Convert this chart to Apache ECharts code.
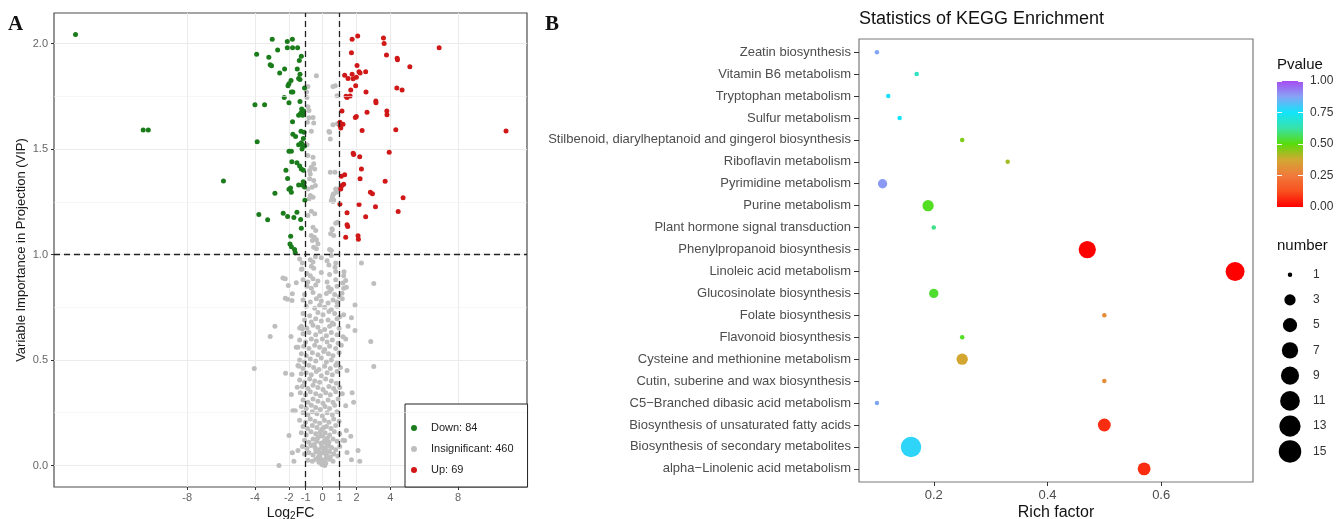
<!DOCTYPE html>
<html>
<head>
<meta charset="utf-8">
<title>Volcano plot and KEGG enrichment</title>
<script src="https://cdn.jsdelivr.net/npm/echarts@6/dist/echarts.min.js"></script>
<style>
  * {margin: 0; padding: 0;}
  body {background: #fff;}
  #chart {width: 1338px; height: 519px;}
</style>
</head>
<body>
<div id="chart"></div>
<script>
// ---- panel A: volcano (Log2FC, VIP) ----
var legendLabels = ['Down: 84', 'Insignificant: 460', 'Up: 69'];
var xTicksA = [-8, -4, -2, -1, 0, 1, 2, 4, 8];
var yTicksA = [0, 0.5, 1, 1.5, 2];
var yMinorA = [0.25, 0.75, 1.25, 1.75];
var thresholdsX = [-1, 1];
var thresholdY = 1;

var down = [
  [-2.98,2.02],[-2.09,2.01],[-1.79,2.02],[-3.9,1.95],[-2.66,1.97],[-2.09,1.98],[-1.78,1.98],[-1.48,1.98],
  [-3.18,1.935],[-1.26,1.94],[-3.1,1.90],[-3.02,1.895],[-1.38,1.92],[-2.25,1.88],[-2.54,1.86],[-1.5,1.88],
  [-1.34,1.855],[-1.99,1.81],[-2.05,1.80],[-1.42,1.835],[-1.34,1.83],[-1.76,1.77],[-1.85,1.77],[-1.07,1.79],
  [-2.27,1.745],[-4.0,1.71],[-3.43,1.71],[-1.99,1.72],[-1.34,1.725],[-1.24,1.69],[-1.3,1.67],[-1.42,1.66],
  [-1.14,1.67],[-1.18,1.66],[-1.78,1.63],[-1.1,1.58],[-1.76,1.57],[-1.6,1.56],[-3.87,1.535],[-1.14,1.55],
  [-1.26,1.53],[-1.42,1.52],[-1.07,1.515],[-1.99,1.49],[-1.85,1.49],[-1.22,1.50],[-1.82,1.44],[-1.52,1.435],
  [-1.36,1.42],[-1.26,1.405],[-1.14,1.40],[-2.17,1.40],[-2.07,1.36],[-1.1,1.34],[-1.22,1.33],[-1.42,1.33],
  [-1.07,1.32],[-1.99,1.31],[-1.85,1.295],[-2.82,1.29],[-1.05,1.257],[-3.77,1.19],[-3.25,1.165],[-2.33,1.196],
  [-2.07,1.18],[-1.7,1.175],[-1.52,1.20],[-1.3,1.166],[-1.26,1.125],[-1.89,1.087],[-1.93,1.05],[-1.85,1.037],
  [-1.66,1.024],[-1.62,1.008],[-5.86,1.349],[-14.6,2.043],[-10.6,1.59],[-10.3,1.59],
  [-1.12,1.68],[-1.2,1.52],[-1.15,1.345],[-1.9,1.315],[-1.28,1.585],[-1.87,1.825]
];

var up = [
  [1.74,2.02],[2.07,2.036],[3.59,2.027],[3.63,2.0],[1.7,1.956],[3.77,1.946],[4.4,1.93],[4.42,1.923],
  [5.15,1.89],[2.03,1.896],[1.3,1.85],[1.5,1.834],[1.74,1.855],[1.8,1.833],[1.99,1.84],[2.15,1.867],
  [2.21,1.86],[2.54,1.866],[1.95,1.80],[1.66,1.78],[4.38,1.79],[4.69,1.78],[2.56,1.77],[1.38,1.75],
  [1.62,1.752],[1.44,1.745],[3.14,1.728],[3.15,1.72],[1.14,1.68],[2.62,1.675],[3.79,1.68],[3.8,1.663],
  [1.99,1.654],[1.93,1.65],[1.02,1.627],[1.2,1.618],[1.07,1.6],[1.03,1.61],[2.33,1.588],[4.32,1.592],
  [1.8,1.48],[1.83,1.474],[3.93,1.485],[2.19,1.464],[2.29,1.406],[1.1,1.371],[1.3,1.378],[2.21,1.359],
  [3.69,1.348],[1.14,1.327],[1.24,1.333],[1.07,1.311],[2.82,1.295],[2.94,1.288],[4.75,1.269],[1.02,1.24],
  [2.15,1.237],[3.12,1.227],[4.46,1.204],[1.44,1.198],[2.54,1.179],[1.44,1.141],[1.48,1.133],[1.36,1.082],
  [2.09,1.089],[2.11,1.073],[6.88,1.98],[10.83,1.586],[1.05,1.62]
];

var insignificant = [
  // above VIP 1, between the fold-change cut-offs
  [-0.37,1.848],[-0.87,1.796],[-0.93,1.745],[0.75,1.80],[0.61,1.796],[0.85,1.753],[-0.87,1.70],[-0.81,1.683],
  [-0.57,1.65],[-0.81,1.648],[-0.53,1.624],[-0.9,1.627],[0.61,1.615],[0.37,1.583],[0.45,1.548],[0.87,1.62],
  [-0.67,1.585],[-0.57,1.461],[-0.53,1.43],[-0.67,1.414],[-0.47,1.406],[-0.77,1.398],[-0.73,1.382],[0.45,1.39],
  [0.73,1.39],[-0.77,1.359],[-0.53,1.351],[-0.43,1.327],[-0.63,1.319],[-0.87,1.311],[-0.73,1.28],[-0.57,1.272],
  [-0.8,1.265],[0.77,1.311],[0.65,1.288],[0.81,1.295],[0.57,1.272],[0.51,1.256],[0.65,1.259],[0.9,1.311],
  [0.61,1.283],[0.61,1.251],[-0.67,1.205],[-0.47,1.193],[-0.87,1.185],[-0.57,1.129],[-0.41,1.114],[-0.67,1.09],
  [-0.49,1.082],[-0.37,1.07],[-0.61,1.066],[-0.28,1.051],[-0.53,1.035],[-0.37,1.027],[0.77,1.148],[0.57,1.117],
  [0.65,1.09],[0.51,1.019],[0.87,1.153],[0.55,1.122],[0.47,1.098],[0.41,1.024],[0.41,1.58],[-0.95,1.77],
  [-0.92,1.52],[-0.88,1.47],
  // scattered points below VIP 1
  [2.29,0.96],[3.02,0.863],[1.91,0.761],[2.84,0.588],[3.02,0.469],[-4.04,0.46],[-2.82,0.66],[-3.1,0.611],
  [-2.58,0.0],[-2.35,0.889],[-2.21,0.885],[-2.03,0.853],[-1.79,0.814],[-2.21,0.793],[-2.07,0.788],[-1.81,0.782],
  [-1.56,0.866],[-1.87,0.611],[-2.19,0.437],[-1.81,0.431],[-1.85,0.336],[-1.76,0.26],[-1.62,0.26],[-1.99,0.142],
  [-1.79,0.06],[-1.7,0.02],[2.09,0.071],[2.19,0.02],[1.7,0.027],[1.44,0.062],[1.66,0.139],[1.4,0.166],
  [1.36,0.283],[1.4,0.845],[1.36,0.877],[1.26,0.918],[1.14,0.817],[1.36,0.6],[1.16,0.34],[1.3,0.118],
  [-1.46,0.071],[-1.5,0.371],[-1.46,0.474],[-1.56,0.561],[-1.2,0.648],[-1.36,0.652],[-1.36,0.979],[-1.22,0.932],
  // main cloud
  [-1.2,0.96],[-0.73,0.975],[-0.57,0.965],[-0.43,0.99],[-0.08,0.985],[0.26,0.97],[0.51,0.995],[0.77,0.96],
  [-1.26,0.93],[-0.67,0.945],[-0.53,0.935],[0.37,0.95],[0.73,0.94],
  [-0.93,0.91],[-0.73,0.9],[-0.08,0.915],[0.41,0.905],[0.77,0.92],[1.24,0.9],
  [-1.16,0.88],[-0.87,0.87],[-0.57,0.885],[-0.28,0.875],[0.26,0.87],[0.77,0.88],[1.2,0.865],
  [-0.93,0.85],[-0.67,0.84],[-0.41,0.855],[0.34,0.845],[0.51,0.835],[0.85,0.85],[1.24,0.84],
  [-1.07,0.81],[-0.57,0.82],[-0.18,0.805],[0.22,0.815],[0.41,0.825],[0.71,0.81],[0.97,0.8],
  [-1.16,0.785],[-0.73,0.775],[-0.37,0.79],[-0.08,0.78],[0.32,0.77],[0.61,0.785],[0.85,0.775],[1.16,0.79],
  [-0.97,0.755],[-0.47,0.745],[-0.18,0.76],[0.12,0.75],[0.51,0.74],[0.85,0.755],
  [-1.16,0.72],[-0.77,0.71],[-0.28,0.725],[0.02,0.715],[0.37,0.73],[0.71,0.72],[1.01,0.705],[1.24,0.715],
  [-1.07,0.69],[-0.67,0.68],[-0.41,0.695],[-0.08,0.685],[0.32,0.69],[0.57,0.675],[0.85,0.695],[1.7,0.7],
  [-1.26,0.66],[-0.93,0.65],[-0.57,0.665],[-0.28,0.655],[0.12,0.645],[0.41,0.66],[0.65,0.67],[0.97,0.65],[1.5,0.66],[1.91,0.64],
  [-1.16,0.625],[-0.81,0.63],[-0.41,0.62],[-0.14,0.635],[0.22,0.615],[0.51,0.63],[0.85,0.62],[1.2,0.61],
  [-1.36,0.595],[-1.01,0.585],[-0.67,0.6],[-0.37,0.59],[-0.02,0.6],[0.26,0.585],[0.57,0.595],[0.91,0.58],
  [-1.46,0.56],[-1.12,0.565],[-0.81,0.555],[-0.47,0.57],[-0.18,0.56],[0.12,0.55],[0.41,0.565],[0.77,0.555],[1.1,0.57],
  [-1.26,0.53],[-0.97,0.52],[-0.61,0.535],[-0.28,0.525],[0.06,0.54],[0.34,0.53],[0.61,0.52],[0.97,0.535],
  [-1.36,0.5],[-1.07,0.49],[-0.73,0.505],[-0.41,0.495],[-0.08,0.51],[0.22,0.49],[0.51,0.5],[0.85,0.485],
  [-1.40,0.47],[-1.16,0.46],[-0.81,0.475],[-0.53,0.465],[-0.22,0.455],[0.12,0.47],[0.45,0.46],[0.77,0.475],[1.05,0.465],[1.44,0.45],
  [-1.26,0.435],[-0.97,0.44],[-0.67,0.43],[-0.37,0.445],[-0.08,0.425],[0.26,0.44],[0.57,0.43],[0.85,0.445],
  [-1.36,0.405],[-1.07,0.395],[-0.77,0.41],[-0.47,0.4],[-0.18,0.395],[0.18,0.41],[0.51,0.4],[0.81,0.39],
  [-1.2,0.375],[-0.87,0.365],[-0.57,0.38],[-0.28,0.37],[0.02,0.36],[0.37,0.375],[0.65,0.365],[1.01,0.37],
  [-1.32,0.345],[-1.01,0.335],[-0.73,0.35],[-0.41,0.34],[-0.14,0.33],[0.18,0.345],[0.45,0.335],[0.77,0.35],[1.74,0.345],
  [-1.16,0.31],[-0.87,0.3],[-0.57,0.315],[-0.28,0.305],[0.02,0.295],[0.32,0.31],[0.61,0.3],[0.91,0.315],[1.83,0.3],
  [-1.26,0.28],[-0.97,0.27],[-0.67,0.285],[-0.41,0.275],[-0.14,0.265],[0.14,0.28],[0.41,0.27],[0.71,0.285],
  [-1.16,0.25],[-0.87,0.24],[-0.61,0.255],[-0.34,0.245],[-0.02,0.235],[0.26,0.25],[0.57,0.24],[0.85,0.255],
  [-1.36,0.215],[-1.01,0.205],[-0.73,0.22],[-0.45,0.21],[-0.18,0.2],[0.10,0.215],[0.37,0.205],[0.65,0.22],[0.97,0.21],
  [-1.16,0.185],[-0.89,0.175],[-0.61,0.19],[-0.34,0.18],[-0.06,0.17],[0.22,0.185],[0.49,0.175],[0.77,0.19],
  [-1.26,0.155],[-0.97,0.145],[-0.69,0.16],[-0.41,0.15],[-0.14,0.14],[0.14,0.155],[0.41,0.145],[0.69,0.16],[1.01,0.15],
  [-1.07,0.12],[-0.81,0.11],[-0.57,0.125],[-0.34,0.115],[-0.10,0.105],[0.14,0.12],[0.37,0.11],[0.61,0.125],[0.85,0.115],[1.2,0.12],
  [-1.20,0.09],[-0.93,0.08],[-0.69,0.095],[-0.45,0.085],[-0.26,0.075],[-0.06,0.09],[0.14,0.08],[0.34,0.095],[0.53,0.085],[0.77,0.075],[1.01,0.09],
  [-1.07,0.055],[-0.81,0.06],[-0.57,0.05],[-0.37,0.065],[-0.18,0.045],[0.02,0.06],[0.22,0.05],[0.41,0.065],[0.65,0.055],[0.89,0.045],
  [-0.87,0.025],[-0.61,0.02],[-0.41,0.03],[-0.22,0.015],[-0.02,0.025],[0.18,0.01],[0.37,0.03],[0.61,0.02],
  [-0.5,0.1],[-0.3,0.13],[-0.2,0.06],[-0.12,0.03],[0.0,0.08],[0.05,0.11],[0.08,0.02],[0.1,0.065],
  [0.2,0.035],[0.25,0.1],[0.3,0.07],[-0.05,0.005],[0.12,0.0],[-0.25,0.04],[-0.4,0.07],[0.45,0.04],
  [0.0,0.14],[0.28,0.13],[-0.15,0.16],[0.06,0.18]
];

// ---- panel B: KEGG enrichment bubbles (top to bottom) ----
var pathways = [
  'Zeatin biosynthesis', 'Vitamin B6 metabolism', 'Tryptophan metabolism', 'Sulfur metabolism',
  'Stilbenoid, diarylheptanoid and gingerol biosynthesis', 'Riboflavin metabolism', 'Pyrimidine metabolism',
  'Purine metabolism', 'Plant hormone signal transduction', 'Phenylpropanoid biosynthesis',
  'Linoleic acid metabolism', 'Glucosinolate biosynthesis', 'Folate biosynthesis', 'Flavonoid biosynthesis',
  'Cysteine and methionine metabolism', 'Cutin, suberine and wax biosynthesis',
  'C5\u2212Branched dibasic acid metabolism', 'Biosynthesis of unsaturated fatty acids',
  'Biosynthesis of secondary metabolites', 'alpha\u2212Linolenic acid metabolism'
];
var richFactor = [0.10, 0.17, 0.12, 0.14, 0.25, 0.33, 0.11, 0.19, 0.20, 0.47, 0.73, 0.20, 0.50, 0.25, 0.25, 0.50, 0.10, 0.50, 0.16, 0.57];
var pvalue     = [0.87, 0.66, 0.76, 0.75, 0.46, 0.42, 0.89, 0.52, 0.60, 0.00, 0.00, 0.53, 0.30, 0.52, 0.37, 0.30, 0.87, 0.07, 0.78, 0.07];
var geneNumber = [1, 1, 1, 1, 1, 1, 2, 3, 1, 8, 10, 2, 1, 1, 3, 1, 1, 4, 12, 4];
var xTicksB = [0.2, 0.4, 0.6];
var pTicks = [0, 0.25, 0.5, 0.75, 1];
var sizeLegend = [1, 3, 5, 7, 9, 11, 13, 15];
var pColors = ['#ff0000', '#f8501e', '#f07a3c', '#d2a832', '#58dc0a', '#38e2a8', '#12e4fa', '#86a4f4', '#a64cf2'];

var font = 'Liberation Sans, Arial, sans-serif';

function sizeOf(n) {
  return 4.5 + 18 * Math.sqrt((n - 1) / 14);
}

var bubbles = pathways.map(function (p, i) {
  return [richFactor[i], pathways.length - 1 - i, pvalue[i], geneNumber[i]];
});

var barStops = pColors.map(function (c, i) {
  return {offset: 1 - i / (pColors.length - 1), color: c};
});

var chart = echarts.init(document.getElementById('chart'));

var option = {
  animation: false,
  backgroundColor: '#fff',
  textStyle: {fontFamily: font},
  title: [
    {text: 'A', left: 8, top: 14, padding: 0, textStyle: {fontFamily: 'Liberation Serif, serif', fontSize: 21, fontWeight: 'bold', color: '#111'}},
    {text: 'B', left: 545, top: 14, padding: 0, textStyle: {fontFamily: 'Liberation Serif, serif', fontSize: 21, fontWeight: 'bold', color: '#111'}},
    {text: 'Statistics of KEGG Enrichment', left: 859, top: 10, padding: 0, textStyle: {fontFamily: font, fontSize: 18, fontWeight: 'normal', color: '#111'}},
    {text: 'Pvalue', left: 1277, top: 57, padding: 0, textStyle: {fontFamily: font, fontSize: 15, fontWeight: 'normal', color: '#111'}},
    {text: 'number', left: 1277, top: 238, padding: 0, textStyle: {fontFamily: font, fontSize: 15, fontWeight: 'normal', color: '#111'}}
  ],
  legend: {
    data: legendLabels,
    orient: 'vertical',
    left: 405, top: 404,
    padding: [17, 14, 10, 6],
    itemGap: 7, itemWidth: 24, itemHeight: 6,
    icon: 'circle',
    selectedMode: false,
    borderColor: '#222', borderWidth: 1, borderRadius: 0,
    backgroundColor: '#fff',
    textStyle: {fontFamily: font, fontSize: 11, color: '#222', lineHeight: 14}
  },
  visualMap: {
    show: false, type: 'continuous', seriesIndex: 5, dimension: 2,
    min: 0, max: 1, inRange: {color: pColors}
  },
  grid: [
    {left: 54, top: 13, width: 473, height: 474, outerBoundsMode: 'none', show: true, borderColor: '#4d4d4d', borderWidth: 1.2, backgroundColor: '#fff'},
    {left: 859, top: 39, width: 394, height: 443, outerBoundsMode: 'none', show: true, borderColor: '#7a7a7a', borderWidth: 1.2, backgroundColor: '#fff'},
    {left: 1277, top: 81, width: 26, height: 126, outerBoundsMode: 'none'},
    {left: 1277, top: 262, width: 26, height: 202, outerBoundsMode: 'none'}
  ],
  xAxis: [
    {
      gridIndex: 0, type: 'value', min: -15.87, max: 12.07,
      name: 'Log{s|2}FC', nameLocation: 'middle', nameGap: 18, nameMoveOverlap: false,
      nameTextStyle: {fontSize: 14, color: '#1a1a1a', rich: {s: {fontSize: 10, padding: [6, 0, 0, 0]}}},
      axisLine: {show: false, onZero: false},
      axisTick: {show: true, customValues: xTicksA, length: 3, lineStyle: {color: '#333'}},
      axisLabel: {customValues: xTicksA, margin: 5, fontSize: 11, color: '#666'},
      splitLine: {show: true, lineStyle: {color: '#ebebeb', width: 1}}
    },
    {
      gridIndex: 1, type: 'value', min: 0.0685, max: 0.7615,
      name: 'Rich factor', nameLocation: 'middle', nameGap: 23, nameMoveOverlap: false,
      nameTextStyle: {fontSize: 16, color: '#111'},
      axisLine: {show: false, onZero: false},
      axisTick: {show: true, customValues: xTicksB, length: 4, lineStyle: {color: '#333'}},
      axisLabel: {customValues: xTicksB, margin: 7, fontSize: 13, color: '#4d4d4d'},
      splitLine: {show: false}
    },
    {gridIndex: 2, type: 'category', data: ['p'], show: false},
    {gridIndex: 3, type: 'value', min: 0, max: 1, show: false}
  ],
  yAxis: [
    {
      gridIndex: 0, type: 'value', min: -0.102, max: 2.145,
      name: 'Variable Importance in Projection (VIP)', nameLocation: 'middle', nameGap: 26, nameMoveOverlap: false,
      nameTextStyle: {fontSize: 13, color: '#1a1a1a'},
      axisLine: {show: false, onZero: false},
      axisTick: {show: true, customValues: yTicksA, length: 3, lineStyle: {color: '#333'}},
      axisLabel: {customValues: yTicksA, margin: 6, fontSize: 11, color: '#666',
        formatter: function (v) { return v.toFixed(1); }},
      splitLine: {show: true, lineStyle: {color: '#ebebeb', width: 1}}
    },
    {
      gridIndex: 1, type: 'value', min: -0.6, max: 19.6,
      axisLine: {show: false, onZero: false},
      axisTick: {show: true, customValues: pathways.map(function (p, i) { return i; }), length: 5, lineStyle: {color: '#333'}},
      axisLabel: {customValues: pathways.map(function (p, i) { return i; }), margin: 8, fontSize: 13, color: '#4d4d4d',
        formatter: function (v) { return pathways[pathways.length - 1 - Math.round(v)]; }},
      splitLine: {show: false}
    },
    {
      gridIndex: 2, type: 'value', min: 0, max: 1, position: 'right', z: 5,
      axisLine: {show: false},
      axisTick: {show: true, inside: true, customValues: pTicks, length: 5, lineStyle: {color: '#fff', width: 1}},
      axisLabel: {customValues: pTicks, margin: 7, fontSize: 12, color: '#333',
        formatter: function (v) { return v.toFixed(2); }},
      splitLine: {show: false}
    },
    {
      gridIndex: 3, type: 'value', min: -0.5, max: 7.5, inverse: true, position: 'right',
      axisLine: {show: false}, axisTick: {show: false},
      axisLabel: {customValues: sizeLegend.map(function (n, i) { return i; }), margin: 10, fontSize: 12, color: '#333',
        formatter: function (v) { return String(sizeLegend[Math.round(v)]); }},
      splitLine: {show: false}
    },
    {
      gridIndex: 2, type: 'value', min: 0, max: 1, position: 'left', z: 5,
      axisLine: {show: false},
      axisTick: {show: true, inside: true, customValues: pTicks, length: 5, lineStyle: {color: '#fff', width: 1}},
      axisLabel: {show: false},
      splitLine: {show: false}
    }
  ],
  series: [
    {
      type: 'scatter', xAxisIndex: 0, yAxisIndex: 0, data: [], z: 1, silent: true,
      markLine: {silent: true, symbol: 'none', label: {show: false},
        lineStyle: {color: '#f0f0f0', width: 0.6, type: 'solid'},
        data: yMinorA.map(function (v) { return {yAxis: v}; })}
    },
    {name: legendLabels[1], type: 'scatter', xAxisIndex: 0, yAxisIndex: 0, data: insignificant,
      symbolSize: 5, itemStyle: {color: '#bebebe', opacity: 1}, z: 2, silent: true},
    {name: legendLabels[0], type: 'scatter', xAxisIndex: 0, yAxisIndex: 0, data: down,
      symbolSize: 5, itemStyle: {color: '#1b7c1b', opacity: 1}, z: 2, silent: true},
    {name: legendLabels[2], type: 'scatter', xAxisIndex: 0, yAxisIndex: 0, data: up,
      symbolSize: 5, itemStyle: {color: '#d01818', opacity: 1}, z: 2, silent: true},
    {
      type: 'scatter', xAxisIndex: 0, yAxisIndex: 0, data: [], z: 4, silent: true,
      markLine: {silent: true, symbol: 'none', label: {show: false},
        lineStyle: {color: '#222', width: 1.3, type: [6, 4]},
        data: thresholdsX.map(function (v) { return {xAxis: v}; }).concat([{yAxis: thresholdY}])}
    },
    {
      name: 'KEGG', type: 'scatter', xAxisIndex: 1, yAxisIndex: 1, data: bubbles, silent: true,
      itemStyle: {opacity: 1},
      symbolSize: function (d) { return sizeOf(d[3]); }
    },
    {
      type: 'bar', xAxisIndex: 2, yAxisIndex: 2, data: [1], barWidth: '100%', silent: true,
      itemStyle: {color: new echarts.graphic.LinearGradient(0, 0, 0, 1, barStops)}
    },
    {
      type: 'scatter', xAxisIndex: 3, yAxisIndex: 3, silent: true,
      data: sizeLegend.map(function (n, i) { return [0.5, i, n]; }),
      symbolSize: function (d) { return sizeOf(d[2]); },
      itemStyle: {color: '#000', opacity: 1}
    }
  ]
};

chart.setOption(option);
</script>
</body>
</html>
